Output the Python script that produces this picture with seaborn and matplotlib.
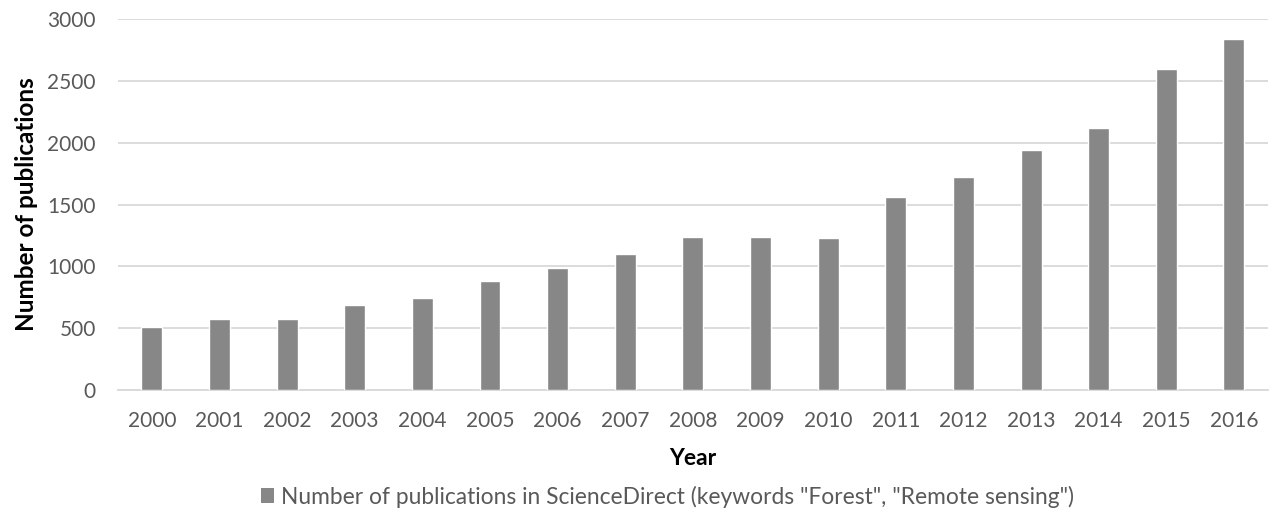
import matplotlib
matplotlib.use("Agg")
import matplotlib.pyplot as plt
import seaborn as sns
import pandas as pd
from matplotlib.patches import Patch

years = [str(y) for y in range(2000, 2017)]
publications = [510, 577, 572, 688, 742, 882, 988, 1098, 1241, 1239, 1230,
                1560, 1719, 1943, 2121, 2596, 2841]
series_name = 'Number of publications in ScienceDirect (keywords "Forest", "Remote sensing")'
y_ticks = [0, 500, 1000, 1500, 2000, 2500, 3000]

df = pd.DataFrame({"Year": years, "Publications": publications})

sns.set_theme(style="white")
plt.rcParams["font.family"] = ["Lato", "DejaVu Sans"]

bar_color = "#878787"
tick_color = "#595959"
grid_color = "#d9d9d9"

fig = plt.figure(figsize=(12.69, 5.12), dpi=100)
ax = fig.add_axes([0.093, 0.238, 0.906, 0.725])

sns.barplot(data=df, x="Year", y="Publications", color=bar_color,
            width=0.31, saturation=1, ax=ax, zorder=3)

ax.set_xlim(-0.5, len(years) - 0.5)
ax.set_ylim(0, 3000)
ax.set_yticks(y_ticks)
ax.set_yticklabels([str(t) for t in y_ticks])
ax.yaxis.grid(True, color=grid_color, linewidth=1.3, zorder=0)
ax.set_axisbelow(True)

for side in ["top", "right", "left"]:
    ax.spines[side].set_visible(False)
ax.spines["bottom"].set_color(grid_color)
ax.spines["bottom"].set_linewidth(1.3)

ax.tick_params(axis="both", which="both", length=0, labelsize=15,
               labelcolor=tick_color)
ax.tick_params(axis="x", pad=15)
ax.tick_params(axis="y", pad=16)

ax.set_xlabel("Year", fontsize=16.5, fontweight="bold", color="black", labelpad=12)
ax.set_ylabel("Number of publications", fontsize=17.5, fontweight="bold",
              color="black")
ax.yaxis.set_label_coords(-0.07, 0.5)

handle = Patch(facecolor=bar_color, edgecolor="none")
fig.legend([handle], [series_name], loc="center", bbox_to_anchor=(0.526, 0.03),
           frameon=False, fontsize=16.4, handlelength=0.6, handleheight=0.6,
           handletextpad=0.3, labelcolor=tick_color)

fig.savefig("out.png", dpi=100, facecolor="white")
